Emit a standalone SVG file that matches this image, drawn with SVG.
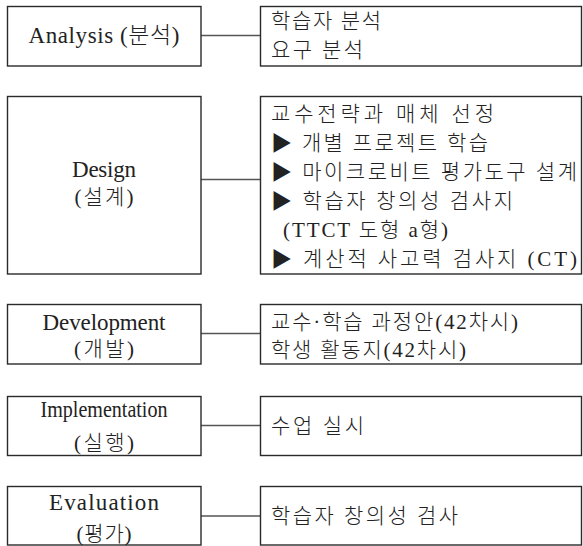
<svg xmlns="http://www.w3.org/2000/svg" width="583" height="546" viewBox="0 0 583 546">
<style>
.box{fill:#fff;stroke:#2a2a2a;stroke-width:1.4}
.con{stroke:#555;stroke-width:1.5;fill:none}
.lt{font-family:'Liberation Serif','Noto Sans CJK KR',serif;font-size:23px;font-weight:300;fill:#222;text-anchor:middle}
.lk{font-family:'Liberation Serif','Noto Sans CJK KR',serif;font-size:21px;font-weight:300;fill:#222;text-anchor:middle}
.kr{font-family:'Liberation Serif','Noto Sans CJK KR',serif;font-size:21px;font-weight:300;fill:#222}
</style>
<rect width="583" height="546" fill="#fff"/>
<g id="connectors">
<line class="con" x1="201" y1="35.5" x2="260.5" y2="35.5"/>
<line class="con" x1="201" y1="179.5" x2="260.5" y2="179.5"/>
<line class="con" x1="201" y1="333.5" x2="260.5" y2="333.5"/>
<line class="con" x1="201" y1="425.5" x2="260.5" y2="425.5"/>
<line class="con" x1="201" y1="516" x2="260.5" y2="516"/>
</g>
<g id="analysis">
<rect class="box" x="7.5" y="6.5" width="193.5" height="59.5"/>
<text class="lt" x="104" y="43" textLength="151" lengthAdjust="spacing">Analysis (분석)</text>
</g>
<g id="analysis-detail">
<rect class="box" x="260.5" y="6.5" width="321" height="59.5"/>
<text class="kr" x="271" y="28.3" textLength="110" lengthAdjust="spacing">학습자 분석</text>
<text class="kr" x="271" y="57" textLength="92" lengthAdjust="spacing">요구 분석</text>
</g>
<g id="design">
<rect class="box" x="7.5" y="96.5" width="193.5" height="177.5"/>
<text class="lt" x="104" y="177" textLength="64" lengthAdjust="spacing">Design</text>
<text class="lk" x="104" y="203.6" textLength="59" lengthAdjust="spacing">(설계)</text>
</g>
<g id="design-detail">
<rect class="box" x="260.5" y="96.5" width="321" height="177.5"/>
<text class="kr" x="271" y="121" textLength="223" lengthAdjust="spacing">교수전략과 매체 선정</text>
<text class="kr" x="271" y="149.9" textLength="217" lengthAdjust="spacing">▶ 개별 프로젝트 학습</text>
<text class="kr" x="271" y="178.8" textLength="306" lengthAdjust="spacing">▶ 마이크로비트 평가도구 설계</text>
<text class="kr" x="271" y="207.7" textLength="242" lengthAdjust="spacing">▶ 학습자 창의성 검사지</text>
<text class="kr" x="283" y="236.6" textLength="165" lengthAdjust="spacing">(TTCT 도형 a형)</text>
<text class="kr" x="271" y="265.5" textLength="306" lengthAdjust="spacing">▶ 계산적 사고력 검사지 (CT)</text>
</g>
<g id="development">
<rect class="box" x="7.5" y="304.5" width="193.5" height="59.5"/>
<text class="lt" x="104" y="330" textLength="123" lengthAdjust="spacing">Development</text>
<text class="lk" x="104" y="355.6" textLength="60" lengthAdjust="spacing">(개발)</text>
</g>
<g id="development-detail">
<rect class="box" x="260.5" y="304.5" width="321" height="59.5"/>
<text class="kr" x="271" y="329.3" textLength="247" lengthAdjust="spacing">교수·학습 과정안(42차시)</text>
<text class="kr" x="271" y="356.6" textLength="195" lengthAdjust="spacing">학생 활동지(42차시)</text>
</g>
<g id="implementation">
<rect class="box" x="7.5" y="396.5" width="193.5" height="59"/>
<text class="lt" x="104" y="416.5" textLength="127" lengthAdjust="spacingAndGlyphs">Implementation</text>
<text class="lk" x="104" y="449.6" textLength="60" lengthAdjust="spacing">(실행)</text>
</g>
<g id="implementation-detail">
<rect class="box" x="260.5" y="396.5" width="321" height="59"/>
<text class="kr" x="271" y="432.6" textLength="93" lengthAdjust="spacing">수업 실시</text>
</g>
<g id="evaluation">
<rect class="box" x="7.5" y="486.5" width="193.5" height="58.5"/>
<text class="lt" x="104" y="510" textLength="110" lengthAdjust="spacing">Evaluation</text>
<text class="lk" x="104" y="541" textLength="55" lengthAdjust="spacing">(평가)</text>
</g>
<g id="evaluation-detail">
<rect class="box" x="260.5" y="486.5" width="321" height="58.5"/>
<text class="kr" x="271" y="522.6" textLength="187" lengthAdjust="spacing">학습자 창의성 검사</text>
</g>
</svg>
